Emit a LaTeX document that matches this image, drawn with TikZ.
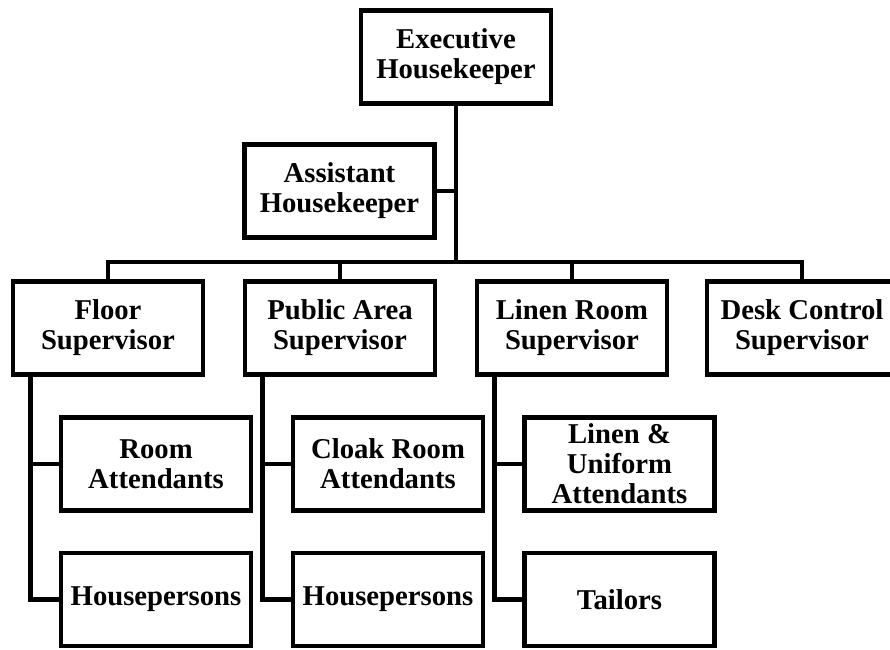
\documentclass[tikz,border=0pt]{standalone}
\usepackage{fontspec}
\setmainfont{Liberation Serif}
\usetikzlibrary{calc,positioning}

\begin{document}
\begin{tikzpicture}[x=0.03cm,y=-0.03cm,every node/.style={inner sep=1pt},
  post/.style={draw,line width=3.9pt,minimum width=190*0.03cm,minimum height=93*0.03cm,
    align=center,font=\fontsize{24.5}{25.6}\selectfont\bfseries},
  link/.style={line width=3.9pt}]
  \useasboundingbox (0,0) rectangle (890,650);
  \clip (0,0) rectangle (890,650);
  \node[post] (exec) at (456,57) {Executive\\Housekeeper};
  \node[post] (asst) at (339.5,191) {Assistant\\Housekeeper};
  \node[post] (floor) at (108,328) {Floor\\Supervisor};
  \node[post] (public) at (340,328) {Public Area\\Supervisor};
  \node[post] (linen) at (572,328) {Linen Room\\Supervisor};
  \node[post] (desk) at (802,328) {Desk Control\\Supervisor};
  \node[post] (room) at (156,464) {Room\\Attendants};
  \node[post] (hp1) at (156,599.5) {Housepersons};
  \node[post] (cloak) at (388,464) {Cloak Room\\Attendants};
  \node[post] (hp2) at (388,599.5) {Housepersons};
  \node[post] (unif) at (619.5,464) {Linen \&\\Uniform\\Attendants};
  \node[post] (tail) at (619.5,599.5) {Tailors};
  \coordinate (bus) at (456,262);
  \coordinate (s1) at ($(floor.south west)+(20,0)$);
  \coordinate (s2) at ($(public.south west)+(20,0)$);
  \coordinate (s3) at ($(linen.south west)+(20,0)$);
  \draw[link] (exec) -- (bus);
  \draw[link] (asst) -- (asst -| exec);
  \draw[link] (floor) |- (bus) -| (desk);
  \draw[link] (public) -- (public |- bus);
  \draw[link] (linen) -- (linen |- bus);
  \draw[link] (s1) |- (hp1); \draw[link] (room) -- (room -| s1);
  \draw[link] (s2) |- (hp2); \draw[link] (cloak) -- (cloak -| s2);
  \draw[link] (s3) |- (tail); \draw[link] (unif) -- (unif -| s3);
\end{tikzpicture}
\end{document}
